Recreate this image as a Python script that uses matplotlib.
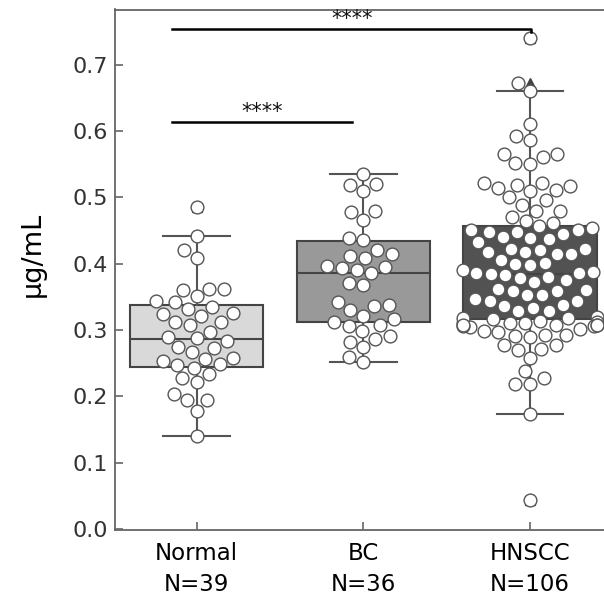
import pandas as pd
import matplotlib
matplotlib.use("Agg")
import matplotlib.pyplot as plt
import seaborn as sns

plt.rcParams["font.family"] = ["DejaVu Sans"]

groups = ["Normal", "BC", "HNSCC"]
tick_labels = ["Normal\nN=39", "BC\nN=36", "HNSCC\nN=106"]

normal = [0.485, 0.441, 0.421, 0.409, 0.362, 0.360, 0.362, 0.351, 0.342, 0.332,
          0.335, 0.343, 0.324, 0.321, 0.325, 0.312, 0.307, 0.312, 0.297, 0.289,
          0.283, 0.288, 0.274, 0.267, 0.273, 0.256, 0.253, 0.257, 0.247, 0.242,
          0.248, 0.227, 0.233, 0.221, 0.204, 0.194, 0.194, 0.178, 0.140]

bc = [0.535, 0.519, 0.510, 0.520, 0.478, 0.466, 0.479, 0.435, 0.439, 0.420,
      0.408, 0.411, 0.414, 0.397, 0.386, 0.390, 0.393, 0.395, 0.368, 0.371,
      0.338, 0.336, 0.342, 0.330, 0.321, 0.317, 0.312, 0.307, 0.298, 0.306,
      0.291, 0.287, 0.282, 0.274, 0.259, 0.252]

hnscc = [0.740, 0.672, 0.660, 0.611, 0.592, 0.587, 0.565, 0.551, 0.550, 0.561,
         0.565, 0.521, 0.519, 0.511, 0.509, 0.517, 0.514, 0.521, 0.489, 0.480,
         0.496, 0.500, 0.480, 0.464, 0.456, 0.471, 0.451, 0.461,
         0.447, 0.444, 0.439, 0.437, 0.451, 0.432, 0.440, 0.447, 0.453,
         0.418, 0.414, 0.414, 0.421, 0.406, 0.417, 0.422, 0.422, 0.401, 0.398, 0.400,
         0.386, 0.380, 0.372, 0.387, 0.385, 0.375, 0.383, 0.386, 0.378, 0.391,
         0.362, 0.358, 0.358, 0.360,
         0.353, 0.343, 0.343, 0.333, 0.353, 0.329, 0.336, 0.338, 0.347, 0.329,
         0.320, 0.317, 0.313, 0.311, 0.310, 0.312, 0.318, 0.318,
         0.305, 0.306, 0.301, 0.298, 0.307, 0.307, 0.308, 0.311, 0.306, 0.307,
         0.297, 0.291, 0.290, 0.292, 0.293,
         0.277, 0.270, 0.272, 0.277,
         0.258, 0.238, 0.218, 0.218, 0.227, 0.174, 0.043]

# box statistics as drawn
whislo = [0.140, 0.252, 0.174]
q1 = [0.244, 0.312, 0.316]
med = [0.287, 0.386, 0.384]
q3 = [0.337, 0.434, 0.457]
whishi = [0.441, 0.535, 0.660]
fliers = [[0.485], [], [0.740, 0.672, 0.043]]

box_colors = ["#d9d9d9", "#999999", "#525252"]

# long-form table for seaborn
df = pd.DataFrame({
    "group": ["Normal"] * len(normal) + ["BC"] * len(bc) + ["HNSCC"] * len(hnscc),
    "value": normal + bc + hnscc,
})

fig = plt.figure(figsize=(6.04, 5.97), dpi=100)
ax = fig.add_axes([115 / 604, 67 / 597, 496.7 / 604, 520.5 / 597])

stats = []
for i in range(3):
    stats.append(dict(whislo=whislo[i], q1=q1[i], med=med[i], q3=q3[i],
                      whishi=whishi[i], fliers=fliers[i]))

bp = ax.bxp(stats, positions=[0, 1, 2], widths=0.8, patch_artist=True,
            boxprops=dict(edgecolor="#444444", linewidth=1.5),
            medianprops=dict(color="#444444", linewidth=1.5),
            whiskerprops=dict(color="#555555", linewidth=1.5),
            capprops=dict(color="#555555", linewidth=1.5),
            flierprops=dict(marker="^", markerfacecolor="#444444",
                            markeredgecolor="#444444", markersize=7))
for patch, c in zip(bp["boxes"], box_colors):
    patch.set_facecolor(c)

sns.swarmplot(data=df, x="group", y="value", order=groups, size=9.2,
              color="white", edgecolor="#555555", linewidth=1, ax=ax, zorder=3)

# significance bars
ax.plot([-0.15, 0.93], [0.614, 0.614], color="black", lw=1.8, zorder=4)
ax.text(0.39, 0.614, "****", ha="center", va="bottom", fontsize=15, color="#111111")
ax.plot([-0.15, 2.007, 2.007], [0.7535, 0.7535, 0.749], color="black", lw=1.8, zorder=4)
ax.text(0.93, 0.753, "****", ha="center", va="bottom", fontsize=15, color="#111111")

ax.set_xlim(-0.49, 2.49)
ax.set_ylim(-0.0015, 0.783)
ax.set_yticks([0.0, 0.1, 0.2, 0.3, 0.4, 0.5, 0.6, 0.7])
ax.set_xticks([0, 1, 2])
ax.set_xticklabels(tick_labels, linespacing=1.4)
ax.set_xlabel("")
ax.set_ylabel("µg/mL", fontsize=19.5)
ax.yaxis.set_label_coords(-0.14, 0.53)

ax.tick_params(axis="both", direction="in", color="#666666", width=1.2, length=6)
ax.tick_params(axis="y", pad=5, labelsize=16, labelcolor="#333333")
ax.tick_params(axis="x", pad=9, labelsize=16.5, labelcolor="black")
for side in ["left", "bottom", "top"]:
    ax.spines[side].set_color("#666666")
    ax.spines[side].set_linewidth(1.3)
ax.spines["right"].set_visible(False)

fig.savefig("out.png", dpi=100)
